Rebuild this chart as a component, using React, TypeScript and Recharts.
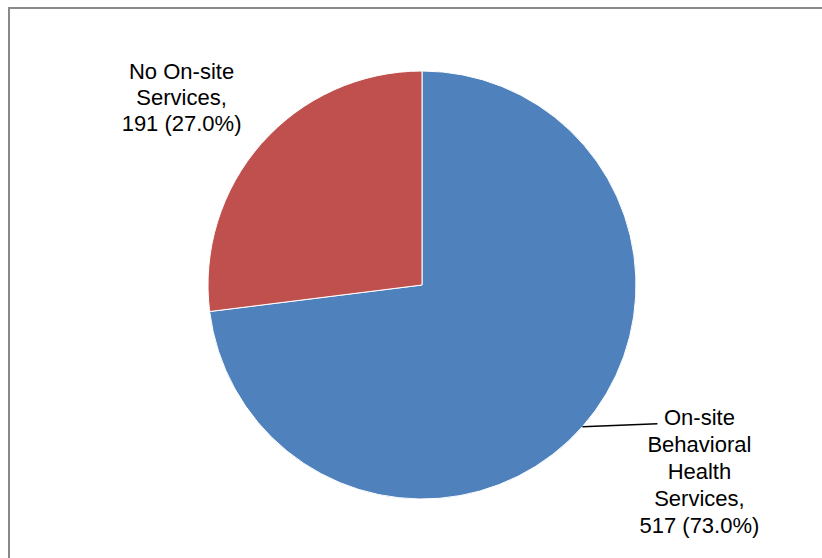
import React from 'react';
import { PieChart, Pie, Cell } from 'recharts';

const categories = ['On-site Behavioral Health Services', 'No On-site Services'];
const counts = [517, 191];
const percents = ['73.0%', '27.0%'];
const labelLines = [
    ['On-site', 'Behavioral', 'Health', 'Services,'],
    ['No On-site', 'Services,'],
];
const colors = ['#4F81BD', '#C0504D'];

const data = categories.map((name, i) => ({ name, value: counts[i] }));

const RADIAN = Math.PI / 180;
const LINE_H = 27;

const renderLabel = (props: any) => {
    const { cx, cy, midAngle, outerRadius, index } = props;
    const ex = cx + outerRadius * Math.cos(-midAngle * RADIAN);
    const ey = cy + outerRadius * Math.sin(-midAngle * RADIAN);
    const lines = [...labelLines[index], `${counts[index]} (${percents[index]})`];

    if (index === 0) {
        // leader line out to the right, text block hangs from its end
        const lx = ex + 75;
        const tx = lx + 42;
        return (
            <g>
                <path d={`M${ex},${ey}L${lx},${ey - 3}`} stroke="#000" strokeWidth={1.5} fill="none" />
                {lines.map((t, i) => (
                    <text key={i} x={tx} y={ey - 9 + i * LINE_H} textAnchor="middle" dominantBaseline="central"
                        fontFamily="'Liberation Sans', Arial, sans-serif" fontSize={22} fill="#000">{t}</text>
                ))}
            </g>
        );
    }
    const tx = ex - 80;
    const ty = ey - 72;
    return (
        <g>
            {lines.map((t, i) => (
                <text key={i} x={tx} y={ty + i * (LINE_H - 1)} textAnchor="middle" dominantBaseline="central"
                    fontFamily="'Liberation Sans', Arial, sans-serif" fontSize={22} fill="#000">{t}</text>
            ))}
        </g>
    );
};

export default function App() {
    return (
        <div style={{ position: 'absolute', left: 0, top: 0, width: 822, height: 558, overflow: 'hidden', background: '#fff' }}>
            <div style={{ position: 'absolute', left: 8, top: 7, width: 840, height: 580, border: '2px solid #898989', boxSizing: 'border-box' }} />
            <PieChart width={822} height={558} margin={{ top: 0, right: 0, bottom: 0, left: 0 }} style={{ position: 'absolute', left: 0, top: 0 }}>
                <Pie
                    data={data}
                    dataKey="value"
                    cx={422}
                    cy={285}
                    outerRadius={214}
                    startAngle={90}
                    endAngle={-270}
                    stroke="#fff"
                    strokeWidth={1}
                    label={renderLabel}
                    labelLine={false}
                    isAnimationActive={false}
                >
                    {data.map((d, i) => (
                        <Cell key={d.name} fill={colors[i]} />
                    ))}
                </Pie>
            </PieChart>
        </div>
    );
}
